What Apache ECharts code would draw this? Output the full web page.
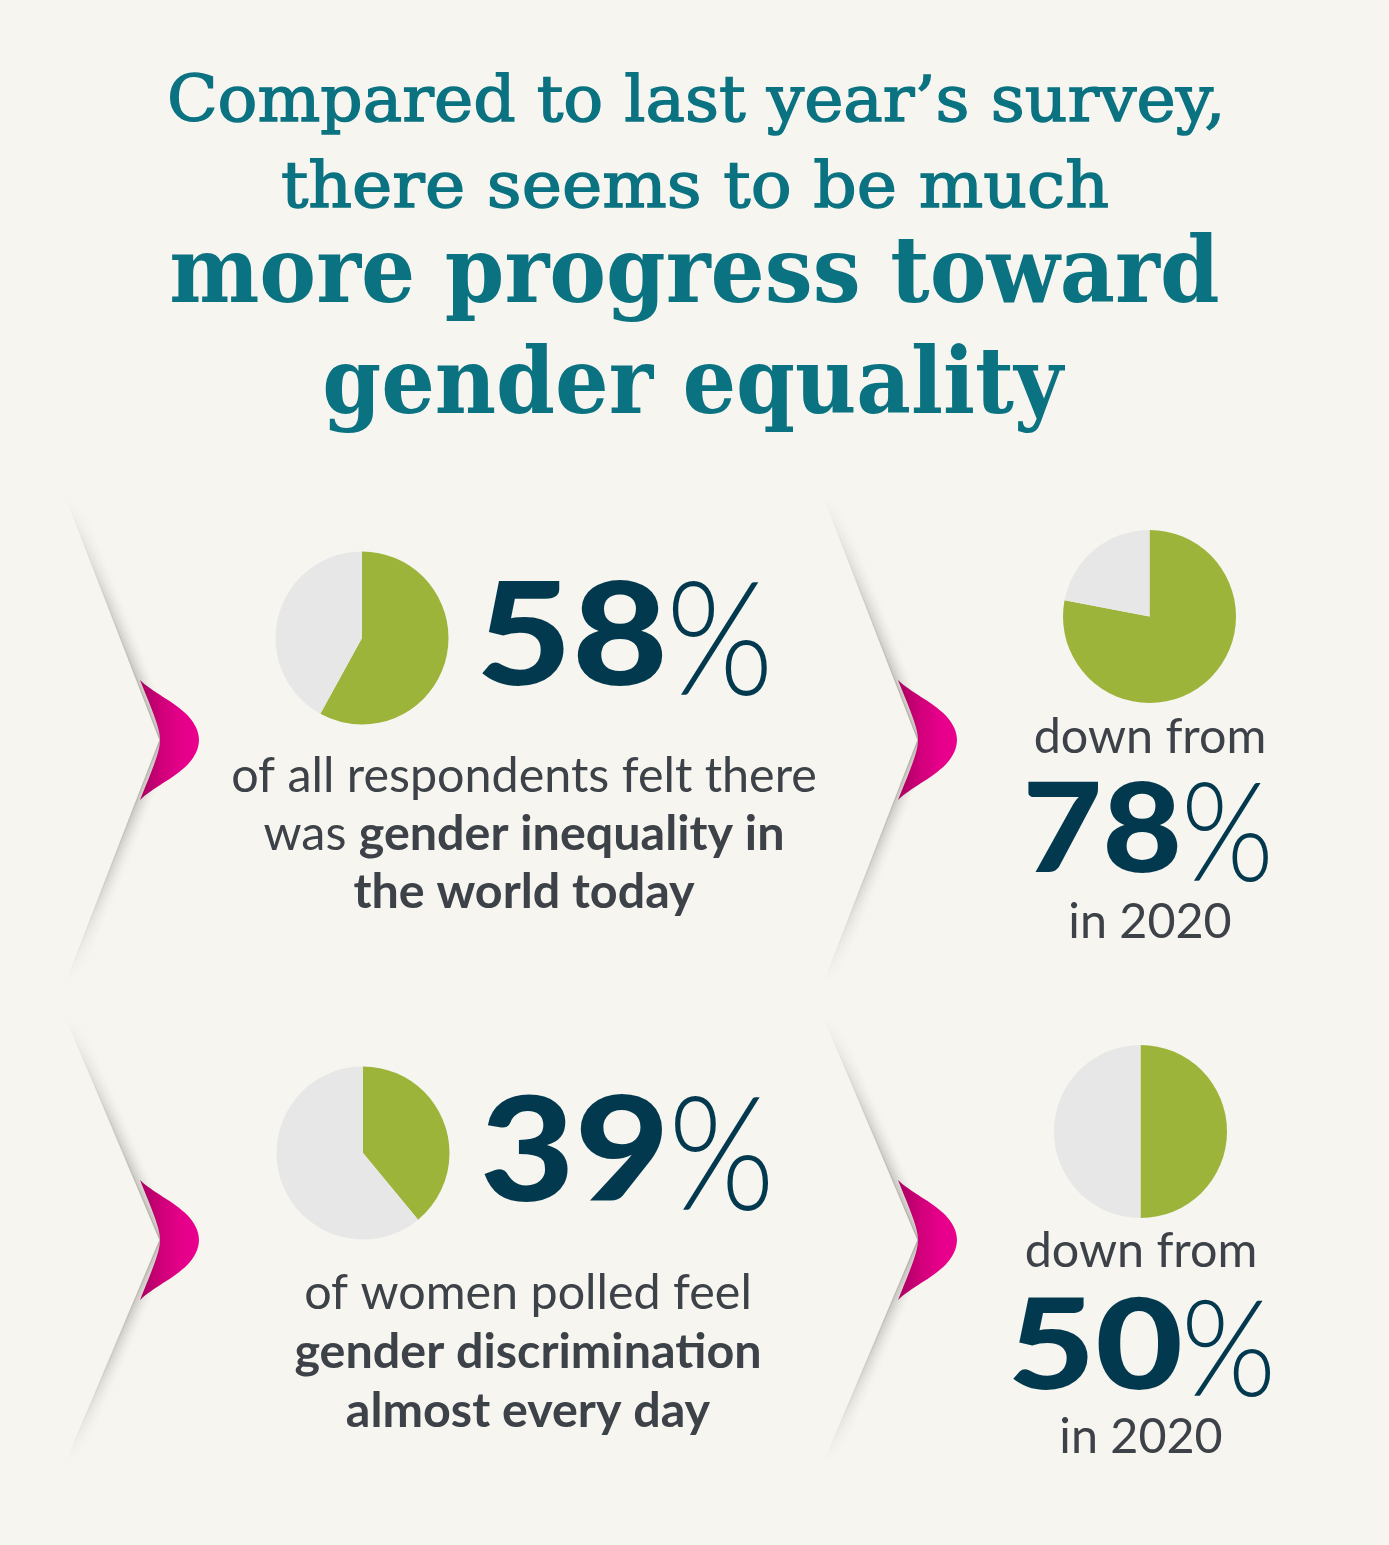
<!DOCTYPE html>
<html>
<head>
<meta charset="utf-8">
<script src="https://cdn.jsdelivr.net/npm/echarts@6/dist/echarts.min.js"></script>
<style>
html,body{margin:0;padding:0;background:#f6f5ef;}
#c{width:1389px;height:1545px;}
</style>
</head>
<body>
<div id="c"></div>
<script>
// ---------------- DATA ----------------
const titleLines = [
  'Compared to last year\u2019s survey,',
  'there seems to be much',
  'more progress toward',
  'gender equality'
];
const share2021 = [58, 39];          // % this year
const share2020 = [78, 50];          // % in 2020
const statementLines = [
  [ [['of all respondents felt there', 0]], [['was ', 0], ['gender inequality in', 1]], [['the world today', 1]] ],
  [ [['of women polled feel', 0]], [['gender discrimination', 1]], [['almost every day', 1]] ]
];
const compareLead = 'down from';
const compareYear = 'in 2020';

// ---------------- STYLE / LAYOUT ----------------
const BG = '#f6f5ef', TEAL = '#0a7280', NAVY = '#03394f', BODY = '#3d4148';
const GREEN = '#9db43b', GREY = '#e7e7e8';
const SERIF = '"DejaVu Serif"', SANS = 'Lato';

const titleLayout = [
  {w: 400, left: 170, right: 1220, base: 121, asc: 49, thick: 1.4},
  {w: 400, left: 282, right: 1108, base: 207, asc: 49, thick: 1.4},
  {w: 700, left: 172, right: 1218, base: 302, asc: 70, thick: 0},
  {w: 700, left: 325, right: 1065, base: 413, asc: 70, thick: 0}
];
const pieLayout = {
  now:  [[362, 638], [363, 1153]],
  prev: [[1149.5, 616.5], [1140.5, 1131.5]],
  r: 86.5
};
const numLayout = {
  now: [
    {d: [481, 663, 580, 686], p: [673, 767, 580, 697]},
    {d: [483, 663, 1095, 1202], p: [675, 768, 1095, 1212]}
  ],
  prev: [
    {d: [1028, 1178, 782, 873], p: [1187, 1268, 780, 882]},
    {d: [1012, 1180, 1297, 1390], p: [1187, 1270, 1297, 1397]}
  ]
};
const bodyLayout = [
  {cx: 524, bases: [792, 850, 908]},
  {cx: 528, bases: [1309, 1368, 1427]}
];
const prevTextLayout = [
  {cx: 1150, lead: 753, year: 938},
  {cx: 1141, lead: 1267, year: 1453}
];
const chevrons = []; // [topX, topY, apexX, apexY, bottomY]
[[500, 740, 980], [1020, 1240, 1460]].forEach(r => {
  [[67, 160], [825, 918]].forEach(c => chevrons.push([c[0], r[0], c[1], r[1], r[2]]));
});

// ---------------- MEASURE HELPERS ----------------
const ctx = document.createElement('canvas').getContext('2d');
function meas(text, weight, size, family) {
  ctx.font = weight + ' ' + size + 'px ' + family;
  ctx.textBaseline = 'middle';
  ctx.textAlign = 'left';
  return ctx.measureText(text);
}
function textEl(text, weight, size, family, color, x, y, scaleX, thick) {
  const st = {
    text: text, fontSize: size, fontWeight: weight, fontFamily: family, fill: color,
    align: 'left', textAlign: 'left', verticalAlign: 'middle', textVerticalAlign: 'middle'
  };
  if (thick) { st.stroke = color; st.lineWidth = thick; }
  return {type: 'text', x: x, y: y, scaleX: scaleX || 1, silent: true, z: 10, style: st};
}
function boxText(text, weight, family, color, box) {
  const [l, r, t, b] = box;
  const m = meas(text, weight, 100, family);
  const h = m.actualBoundingBoxAscent + m.actualBoundingBoxDescent;
  const fs = 100 * (b - t) / h;
  const k = fs / 100;
  const inkW = (m.actualBoundingBoxLeft + m.actualBoundingBoxRight) * k;
  const sx = (r - l) / inkW;
  const x = l + m.actualBoundingBoxLeft * k * sx;
  const y = t + m.actualBoundingBoxAscent * k;
  return textEl(text, weight, fs, family, color, x, y, sx);
}
function baselineOffset(weight, size, family) {
  return meas('H', weight, size, family).actualBoundingBoxDescent;
}

const elements = [];

// ---------------- TITLE ----------------
titleLines.forEach((t, i) => {
  const L = titleLayout[i];
  const md = meas('d', L.w, 100, SERIF);
  const fs = 100 * L.asc / (md.actualBoundingBoxAscent + md.actualBoundingBoxDescent);
  const m = meas(t, L.w, fs, SERIF);
  const inkW = m.actualBoundingBoxLeft + m.actualBoundingBoxRight;
  const sx = (L.right - L.left) / inkW;
  const x = L.left + m.actualBoundingBoxLeft * sx;
  const y = L.base - baselineOffset(L.w, fs, SERIF);
  elements.push(textEl(t, L.w, fs, SERIF, TEAL, x, y, sx, L.thick));
});

// ---------------- CHEVRON FOLDS ----------------
function cubic(p0, p1, p2, p3, n) {
  const out = [];
  for (let s = 0; s <= n; s++) {
    const t = s / n, u = 1 - t;
    out.push([
      u*u*u*p0[0] + 3*u*u*t*p1[0] + 3*u*t*t*p2[0] + t*t*t*p3[0],
      u*u*u*p0[1] + 3*u*u*t*p1[1] + 3*u*t*t*p2[1] + t*t*t*p3[1]
    ]);
  }
  return out;
}
chevrons.forEach(c => {
  const [tx, ty, ax, ay, by] = c;
  const N = 18;
  for (let i = 0; i < N; i++) {
    const a = 0.21 * Math.pow(1 - i / N, 1.8);
    elements.push({
      type: 'polyline', silent: true, z: 1,
      shape: {points: [[tx + i, ty], [ax + i, ay], [tx + i, by]]},
      style: {
        fill: null, lineWidth: 1.5,
        stroke: new echarts.graphic.LinearGradient(0, 0, 0, 1, [
          {offset: 0, color: 'rgba(70,62,55,0)'},
          {offset: 0.22, color: 'rgba(70,62,55,' + (a * 0.6) + ')'},
          {offset: 0.5, color: 'rgba(70,62,55,' + a + ')'},
          {offset: 0.78, color: 'rgba(70,62,55,' + (a * 0.6) + ')'},
          {offset: 1, color: 'rgba(70,62,55,0)'}
        ])
      }
    });
  }
  // crisp fold edge
  elements.push({
    type: 'polyline', silent: true, z: 2,
    shape: {points: [[tx, ty], [ax, ay], [tx, by]]},
    style: {
      fill: null, lineWidth: 1,
      stroke: new echarts.graphic.LinearGradient(0, 0, 0, 1, [
        {offset: 0, color: 'rgba(90,80,70,0)'},
        {offset: 0.5, color: 'rgba(90,80,70,0.22)'},
        {offset: 1, color: 'rgba(90,80,70,0)'}
      ])
    }
  });
  // pink flap
  const outerTop = cubic([-20, -60], [-2, -42], [38, -30], [39, 0], 24);
  const outerBot = outerTop.slice().reverse().map(p => [p[0], -p[1]]);
  const innerBot = cubic([0, 0], [0, -12], [-8, -30], [-20, -60], 16).map(p => [p[0], -p[1]]).reverse();
  const innerTop = cubic([0, 0], [0, -12], [-8, -30], [-20, -60], 16);
  let pts = outerTop.concat(outerBot.slice(1)).concat(innerBot.slice(1)).concat(innerTop.slice(1, -1));
  pts = pts.map(p => [ax + p[0], ay + p[1]]);
  elements.push({
    type: 'polygon', silent: true, z: 3,
    shape: {points: pts},
    style: {
      fill: new echarts.graphic.LinearGradient(0, 0, 1, 0, [
        {offset: 0, color: '#a80060'},
        {offset: 0.4, color: '#d2007b'},
        {offset: 0.7, color: '#e5008a'},
        {offset: 1, color: '#ea008d'}
      ])
    }
  });
});

// ---------------- BIG NUMBERS ----------------
share2021.forEach((v, i) => {
  const L = numLayout.now[i];
  elements.push(boxText(String(v), 900, SANS, NAVY, L.d));
  elements.push(boxText('%', 300, SANS, NAVY, L.p));
});
share2020.forEach((v, i) => {
  const L = numLayout.prev[i];
  elements.push(boxText(String(v), 900, SANS, NAVY, L.d));
  elements.push(boxText('%', 300, SANS, NAVY, L.p));
});

// ---------------- BODY TEXT ----------------
const mRef = meas(statementLines[0][0][0][0], 400, 100, SANS);
const bodyFs = 100 * 582 / (mRef.actualBoundingBoxLeft + mRef.actualBoundingBoxRight);
function centeredLine(segs, cx, base, fs) {
  const ws = segs.map(s => meas(s[0], s[1] ? 700 : 400, fs, SANS).width);
  const total = ws.reduce((a, b) => a + b, 0);
  let x = cx - total / 2;
  const y = base - baselineOffset(400, fs, SANS);
  segs.forEach((s, j) => {
    elements.push(textEl(s[0], s[1] ? 700 : 400, fs, SANS, BODY, x, y, 1));
    x += ws[j];
  });
}
statementLines.forEach((lines, i) => {
  lines.forEach((segs, j) => centeredLine(segs, bodyLayout[i].cx, bodyLayout[i].bases[j], bodyFs));
});
prevTextLayout.forEach(L => {
  centeredLine([[compareLead, 0]], L.cx, L.lead, bodyFs);
  centeredLine([[compareYear, 0]], L.cx, L.year, bodyFs);
});

// ---------------- PIES ----------------
function pieSeries(v, center) {
  return {
    type: 'pie', center: center, radius: pieLayout.r, startAngle: 90, clockwise: true,
    silent: true, label: {show: false}, labelLine: {show: false}, emphasis: {disabled: true},
    itemStyle: {borderWidth: 0},
    data: [
      {value: v, itemStyle: {color: GREEN}},
      {value: 100 - v, itemStyle: {color: GREY}}
    ]
  };
}
const series = [];
share2021.forEach((v, i) => series.push(pieSeries(v, pieLayout.now[i])));
share2020.forEach((v, i) => series.push(pieSeries(v, pieLayout.prev[i])));

const chart = echarts.init(document.getElementById('c'), null, {renderer: 'canvas', width: 1389, height: 1545});
chart.setOption({
  backgroundColor: BG,
  animation: false,
  series: series,
  graphic: {elements: elements}
});
</script>
</body>
</html>
